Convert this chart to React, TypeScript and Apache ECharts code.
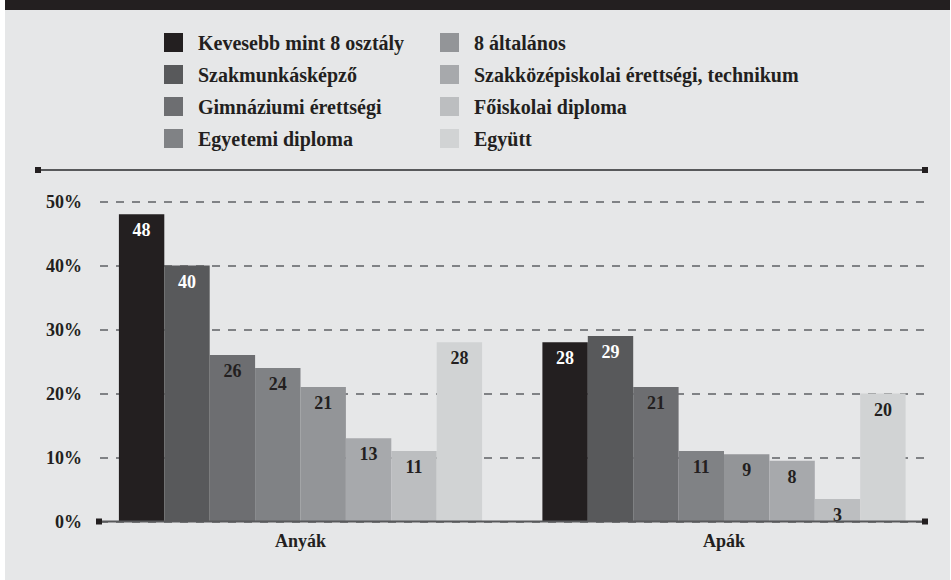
import React, { useEffect, useRef } from "react";
import * as echarts from "echarts";

const categories = ["Anyák", "Apák"];
const seriesNames = [
  "Kevesebb mint 8 osztály",
  "Szakmunkásképző",
  "Gimnáziumi érettségi",
  "Egyetemi diploma",
  "8 általános",
  "Szakközépiskolai érettségi, technikum",
  "Főiskolai diploma",
  "Együtt",
];
const anyakValues = [48, 40, 26, 24, 21, 13, 11, 28];
const apakValues = [28, 29, 21, 11, 10.5, 9.5, 3.5, 20];
const anyakLabels = [48, 40, 26, 24, 21, 13, 11, 28];
const apakLabels = [28, 29, 21, 11, 9, 8, 3, 20];
const colors = ["#231f20", "#58595b", "#6d6e71", "#808285", "#939598", "#a7a9ac", "#bcbec0", "#d1d3d4"];
const labelColors = ["#ffffff", "#ffffff", "#231f20", "#231f20", "#231f20", "#231f20", "#231f20", "#231f20"];

const FONT = "Liberation Serif";
const DARK = "#231f20";

export default function App() {
  const ref = useRef<HTMLDivElement>(null);
  useEffect(() => {
    if (!ref.current) return;
    const chart = echarts.init(ref.current, undefined, { renderer: "svg" });
    const textBase = { fontFamily: FONT, fontWeight: "bold" as const, fontSize: 18, color: DARK };
    const legendBase = {
      orient: "vertical" as const,
      top: 32.5,
      padding: 0,
      itemWidth: 19,
      itemHeight: 19,
      itemGap: 12,
      icon: "rect",
      textStyle: { ...textBase, fontSize: 20, padding: [0, 0, 0, 10] },
    };
    const option: any = {
      animation: false,
      backgroundColor: "#ffffff",
      color: colors,
      legend: [
        { ...legendBase, left: 164, data: seriesNames.slice(0, 4) },
        { ...legendBase, left: 440, data: seriesNames.slice(4, 8) },
      ],
      grid: [
        { left: 100, right: 23, top: 201.5, bottom: 58.5 },
        { left: 88.75, right: 15.25, top: 201.5, bottom: 58.5 },
      ],
      xAxis: [
        { gridIndex: 0, type: "category", data: categories, show: false },
        {
          gridIndex: 1,
          type: "category",
          data: categories,
          axisLine: { show: false },
          axisTick: { show: false },
          axisLabel: { ...textBase, margin: 10 },
        },
      ],
      yAxis: [
        {
          gridIndex: 0,
          type: "value",
          min: 0,
          max: 50,
          interval: 10,
          axisLine: { show: false },
          axisTick: { show: false },
          axisLabel: { ...textBase, margin: 18, formatter: "{value}%" },
          splitLine: { show: true, lineStyle: { color: "#808285", width: 2, type: [8, 8] } },
        },
        { gridIndex: 1, type: "value", min: 0, max: 50, interval: 10, show: false, splitLine: { show: false } },
      ],
      series: seriesNames.map((name, i) => ({
        name,
        type: "bar",
        xAxisIndex: 1,
        yAxisIndex: 1,
        barWidth: 45.4,
        barGap: "0%",
        itemStyle: { color: colors[i] },
        data: [anyakValues[i], apakValues[i]],
        label: {
          show: true,
          position: "insideTop",
          distance: 7,
          ...textBase,
          color: labelColors[i],
          formatter: (p: any) => String(p.dataIndex === 0 ? anyakLabels[i] : apakLabels[i]),
        },
        z: 3,
      })),
      graphic: [
        { type: "rect", z: -10, shape: { x: 5, y: 0, width: 945, height: 10 }, style: { fill: DARK } },
        { type: "rect", z: -10, shape: { x: 5, y: 10, width: 945, height: 570 }, style: { fill: "#e6e7e8" } },
        { type: "line", z: 10, shape: { x1: 38, y1: 170, x2: 925, y2: 170 }, style: { stroke: "#58595b", lineWidth: 2 } },
        { type: "rect", z: 11, shape: { x: 35, y: 167, width: 6, height: 6 }, style: { fill: DARK } },
        { type: "rect", z: 11, shape: { x: 922, y: 167, width: 6, height: 6 }, style: { fill: DARK } },
        { type: "line", z: 10, shape: { x1: 99, y1: 521.5, x2: 925, y2: 521.5 }, style: { stroke: "#58595b", lineWidth: 2 } },
        { type: "rect", z: 11, shape: { x: 96, y: 518.5, width: 6, height: 6 }, style: { fill: DARK } },
        { type: "rect", z: 11, shape: { x: 922, y: 518.5, width: 6, height: 6 }, style: { fill: DARK } },
      ],
    };
    chart.setOption(option);
    return () => chart.dispose();
  }, []);
  return (
    <div style={{ position: "absolute", left: 0, top: 0, width: 951, height: 580, background: "#fff" }}>
      <div ref={ref} style={{ width: 951, height: 580 }} />
    </div>
  );
}
